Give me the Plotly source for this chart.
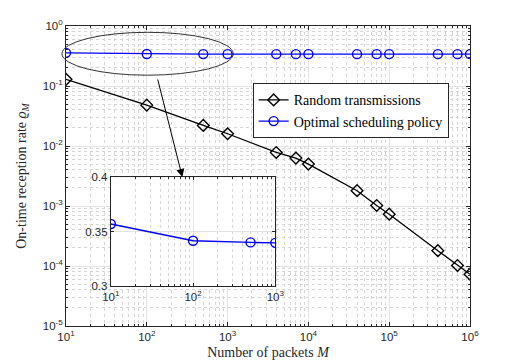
import plotly.graph_objects as go

# number of packets M
M = [10, 100, 500, 1000, 4000, 7000, 10000, 40000, 70000, 100000, 400000, 700000, 1000000]
random_tx = [0.129, 0.048, 0.022, 0.016, 0.0078, 0.0063, 0.0050, 0.0018, 0.00102, 0.00073,
             0.00018, 0.000102, 0.000073]
optimal = [0.357, 0.3415, 0.340, 0.3396, 0.3396, 0.3396, 0.3396, 0.3396, 0.3396, 0.3396,
           0.3396, 0.3396, 0.3396]

# inset: zoom on first four points
M_zoom = M[:4]
optimal_zoom = optimal[:4]

x_tickvals = [1e1, 1e2, 1e3, 1e4, 1e5, 1e6]
x_ticktext = ["10<sup>1</sup>", "10<sup>2</sup>", "10<sup>3</sup>", "10<sup>4</sup>",
              "10<sup>5</sup>", "10<sup>6</sup>"]
y_tickvals = [1, 1e-1, 1e-2, 1e-3, 1e-4, 1e-5]
y_ticktext = ["10<sup>0</sup>", "10<sup>-1</sup>", "10<sup>-2</sup>", "10<sup>-3</sup>",
              "10<sup>-4</sup>", "10<sup>-5</sup>"]
inset_xvals = [1e1, 1e2, 1e3]
inset_xtext = ["10<sup>1</sup>", "10<sup>2</sup>", "10<sup>3</sup>"]
inset_yvals = [0.3, 0.35, 0.4]
inset_ytext = ["0.3", "0.35", "0.4"]

serif = "Liberation Serif"
sans = "Liberation Sans"
axcol = "#262626"

fig = go.Figure()

fig.add_trace(go.Scatter(x=M, y=random_tx, mode="lines+markers", name="Random transmissions",
                         line=dict(color="black", width=1.3),
                         marker=dict(symbol="diamond-open", size=9, color="black", line=dict(width=1.4))))
fig.add_trace(go.Scatter(x=M, y=optimal, mode="lines+markers", name="Optimal scheduling policy",
                         line=dict(color="#0000ff", width=1.4),
                         marker=dict(symbol="circle-open", size=9, color="#0000ff", line=dict(width=1.4))))
fig.add_trace(go.Scatter(x=M_zoom, y=optimal_zoom, mode="lines+markers", showlegend=False,
                         xaxis="x2", yaxis="y2",
                         line=dict(color="#0000ff", width=1.4),
                         marker=dict(symbol="circle-open", size=9, color="#0000ff", line=dict(width=1.4))))

minor_main = dict(dtick="D1", showgrid=True, gridcolor="#d6d6d6", griddash="dot", gridwidth=0.7,
                  ticks="inside", ticklen=2, tickcolor=axcol)

# page body adds an 8px offset, so the figure is 8px smaller and margins shifted
fig.update_layout(
    width=504, height=352,
    margin=dict(l=58, r=42, t=18, b=34),
    plot_bgcolor="white", paper_bgcolor="white",
    font=dict(family=sans, size=11, color=axcol),
    xaxis=dict(type="log", range=[1, 6], tickvals=x_tickvals, ticktext=x_ticktext,
               automargin=False,
               showline=True, linecolor=axcol, linewidth=1, mirror="ticks",
               ticks="inside", ticklen=4, tickcolor=axcol,
               showgrid=True, gridcolor="#e3e3e3", gridwidth=1, minor=minor_main,
               tickfont=dict(family=sans, size=11.5, color=axcol),
               title=dict(text="Number of packets <i>M</i>", font=dict(family=serif, size=14, color=axcol),
                          standoff=5)),
    yaxis=dict(type="log", range=[-5, 0], tickvals=y_tickvals, ticktext=y_ticktext,
               automargin=False,
               showline=True, linecolor=axcol, linewidth=1, mirror="ticks",
               ticks="inside", ticklen=4, tickcolor=axcol,
               showgrid=True, gridcolor="#e3e3e3", gridwidth=1, minor=minor_main,
               tickfont=dict(family=sans, size=11.5, color=axcol),
               title=dict(text="On-time reception rate <i>ϱ</i><sub><i>M</i></sub>",
                          font=dict(family=serif, size=14, color=axcol), standoff=12)),
    xaxis2=dict(type="log", range=[1, 3], domain=[0.111, 0.518], anchor="y2",
                automargin=False,
                tickvals=inset_xvals, ticktext=inset_xtext,
                showline=True, linecolor=axcol, linewidth=1, mirror="ticks",
                ticks="inside", ticklen=3, tickcolor=axcol,
                showgrid=True, gridcolor="#e3e3e3",
                minor=dict(dtick="D1", showgrid=True, gridcolor="#d6d6d6", griddash="dot",
                           ticks="inside", ticklen=2, tickcolor=axcol),
                tickfont=dict(family=sans, size=11.5, color=axcol)),
    yaxis2=dict(range=[0.3, 0.4], domain=[0.134, 0.4955], anchor="x2",
                automargin=False,
                tickvals=inset_yvals, ticktext=inset_ytext,
                showline=True, linecolor=axcol, linewidth=1, mirror="ticks",
                ticks="inside", ticklen=3, tickcolor=axcol,
                showgrid=True, gridcolor="#e3e3e3",
                tickfont=dict(family=sans, size=11.5, color=axcol)),
    legend=dict(x=0.462, y=0.809, xanchor="left", yanchor="top",
                bgcolor="white", bordercolor=axcol, borderwidth=1,
                font=dict(family=serif, size=14, color="black"),
                tracegroupgap=0, itemwidth=30),
    showlegend=True,
)

# white background for the inset
fig.add_shape(type="rect", xref="x2 domain", yref="y2 domain", x0=0, x1=1, y0=0, y1=1,
              fillcolor="white", line=dict(width=0), layer="below")

# ellipse around the zoomed region
fig.add_shape(type="circle", xref="paper", yref="paper", x0=-0.010, x1=0.414, y0=0.836, y1=0.979,
              line=dict(color="#333333", width=1))

fig.add_annotation(x=0.288, y=0.4966, xref="paper", yref="paper", ax=-25, ay=-99,
                   text="", showarrow=True, arrowhead=2, arrowsize=1.6, arrowwidth=1,
                   arrowcolor="black")

fig.write_html("out.html")
